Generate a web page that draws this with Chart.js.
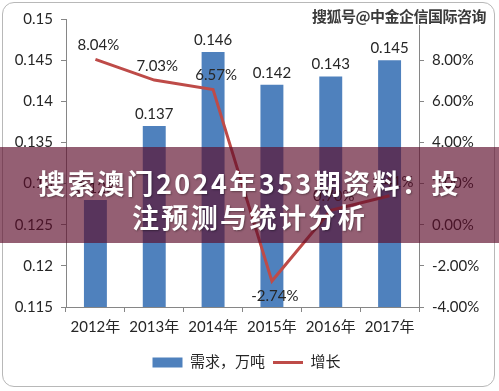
<!DOCTYPE html>
<html>
<head>
<meta charset="utf-8">
<script src="https://cdn.jsdelivr.net/npm/chart.js@4"></script>
<style>
  html, body { margin: 0; padding: 0; background: #fff; }
  #wrap { position: relative; width: 499px; height: 391px; overflow: hidden; }
  #frame { position: absolute; left: 2px; top: 2px; width: 493px; height: 385px;
           border: 1px solid #b8b8b8; border-radius: 12px; box-sizing: border-box; }
  #chart { position: absolute; left: 0; top: 0; }
  #mark { position: absolute; left: 312px; top: 5px; font: bold 15px "Noto Sans CJK SC", sans-serif;
          color: #3a3a3a; letter-spacing: -0.5px;
          text-shadow: -1px 0 #fff, 1px 0 #fff, 0 -1px #fff, 0 1px #fff; }
  #banner { position: absolute; left: 0; top: 147px; width: 499px; height: 96px;
            background: rgba(92, 12, 42, 0.66); box-sizing: border-box; padding-top: 19px;
            text-align: center; color: #fff; font: bold 27px/34px "Noto Sans CJK SC", sans-serif;
            letter-spacing: 2.4px; text-shadow: 1px 1px 2px rgba(0,0,0,0.35); }
</style>
</head>
<body>
<div id="wrap">
  <div id="frame"></div>
  <canvas id="chart" width="499" height="391"></canvas>
  <div id="mark">搜狐号@中金企信国际咨询</div>
  <div id="banner">搜索澳门2024年353期资料：投<br>注预测与统计分析</div>
</div>
<script>
// Data
const years = ['2012年', '2013年', '2014年', '2015年', '2016年', '2017年'];
const demand = [0.128, 0.137, 0.146, 0.142, 0.143, 0.145];
const growth = [8.04, 7.03, 6.57, -2.74, 0.70, 1.41];
const demandTicks = [0.115, 0.12, 0.125, 0.13, 0.135, 0.14, 0.145, 0.15];
const growthTicks = [-4, -2, 0, 2, 4, 6, 8, 10];

const axisColor = '#868686';
const textColor = '#262626';
const tickFont = { family: 'Lato, "Noto Sans CJK SC", sans-serif', size: 15 };

// Value labels above bars / points
const valueLabels = {
    id: 'valueLabels',
    afterDatasetsDraw(chart) {
        const ctx = chart.ctx;
        ctx.save();
        ctx.font = '15px Lato, sans-serif';
        ctx.fillStyle = textColor;
        ctx.textAlign = 'center';
        ctx.textBaseline = 'middle';
        chart.getDatasetMeta(0).data.forEach((bar, i) => {
            ctx.fillText(demand[i].toFixed(3), bar.x, bar.y - 12);
        });
        chart.getDatasetMeta(1).data.forEach((pt, i) => {
            const v = growth[i];
            const dy = v < 0 ? 15 : -14;
            ctx.fillText(v.toFixed(2) + '%', pt.x + 3, pt.y + dy);
        });
        ctx.restore();
    }
};

const ctx = document.getElementById('chart').getContext('2d');
new Chart(ctx, {
    data: {
        labels: years,
        datasets: [{
            type: 'bar',
            label: '需求，万吨',
            data: demand,
            backgroundColor: '#4F81BD',
            yAxisID: 'y',
            barPercentage: 0.39,
            categoryPercentage: 1,
            order: 2
        }, {
            type: 'line',
            label: '增长',
            data: growth,
            borderColor: '#BE4B48',
            backgroundColor: '#BE4B48',
            borderWidth: 3,
            pointRadius: 0,
            tension: 0,
            yAxisID: 'y1',
            order: 1
        }]
    },
    options: {
        responsive: false,
        animation: false,
        layout: { padding: { top: 19, bottom: 11, right: 6 } },
        plugins: {
            tooltip: { enabled: false },
            legend: {
                position: 'bottom',
                labels: {
                    usePointStyle: true,
                    pointStyleWidth: 30,
                    boxHeight: 10,
                    padding: 8,
                    color: textColor,
                    font: tickFont,
                    generateLabels(chart) {
                        return chart.data.datasets.map((ds, i) => ({
                            text: ds.label,
                            fillStyle: ds.backgroundColor,
                            strokeStyle: ds.type === 'line' ? ds.borderColor : ds.backgroundColor,
                            lineWidth: ds.type === 'line' ? 3 : 0,
                            pointStyle: ds.type === 'line' ? 'line' : 'rect',
                            fontColor: textColor,
                            datasetIndex: i
                        }));
                    }
                }
            }
        },
        scales: {
            x: {
                offset: true,
                grid: { offset: true, drawOnChartArea: false, color: axisColor, tickLength: 5 },
                border: { color: axisColor },
                ticks: { color: textColor, font: tickFont, padding: 6 },
                afterFit(scale) { scale.height = 40; }
            },
            y: {
                position: 'left',
                min: demandTicks[0],
                max: demandTicks[demandTicks.length - 1],
                afterBuildTicks(scale) { scale.ticks = demandTicks.map(v => ({ value: v })); },
                grid: { drawOnChartArea: false, color: axisColor, tickLength: 5 },
                border: { color: axisColor },
                ticks: { color: textColor, font: tickFont, padding: 8,
                         callback: v => String(Number(v.toFixed(3))) },
                afterFit(scale) { scale.width = 66; }
            },
            y1: {
                position: 'right',
                min: growthTicks[0],
                max: growthTicks[growthTicks.length - 1],
                afterBuildTicks(scale) { scale.ticks = growthTicks.map(v => ({ value: v })); },
                grid: { drawOnChartArea: false, color: axisColor, tickLength: 5 },
                border: { color: axisColor },
                ticks: { color: textColor, font: tickFont, padding: 8,
                         callback: v => v === 10 ? '' : v.toFixed(2) + '%' },
                afterFit(scale) { scale.width = 74; }
            }
        }
    },
    plugins: [valueLabels]
});
</script>
</body>
</html>
